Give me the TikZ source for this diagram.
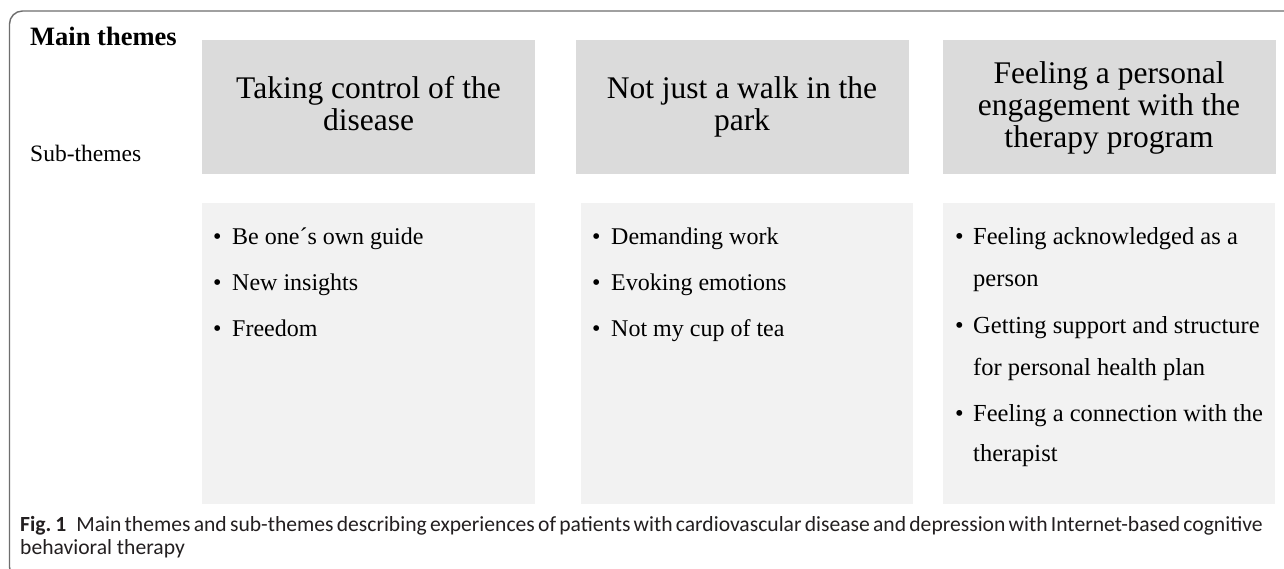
\documentclass[tikz,border=0pt]{standalone}
\usepackage{fontspec}
\setmainfont{Liberation Serif}
\newfontfamily\capfont{Carlito}
\definecolor{topfill}{RGB}{219,219,219}
\definecolor{botfill}{RGB}{242,242,242}
\definecolor{framec}{RGB}{110,110,110}
\definecolor{captxt}{RGB}{35,31,32}
\begin{document}
\begin{tikzpicture}[x=1pt,y=-1pt,
  topbox/.style={fill=topfill, draw=none, inner sep=0pt, minimum width=333pt, minimum height=134pt},
  toptext/.style={inner sep=0pt, align=center, font=\fontsize{31.5}{32}\selectfont},
  botbox/.style={fill=botfill, draw=none, inner sep=0pt, minimum width=333pt, minimum height=301pt, anchor=north west},
  itemA/.style={anchor=base west, inner sep=0pt, font=\fontsize{24}{24}\selectfont},
  itemB/.style={anchor=base west, inner sep=0pt, font=\fontsize{24.5}{24.5}\selectfont},
  labelA/.style={anchor=base west, inner sep=0pt},
  capline/.style={anchor=base west, inner sep=0pt, text=captxt, font=\capfont\fontsize{21.6}{21.6}\selectfont}
]
\useasboundingbox (0,0) rectangle (1284,569);
\clip (0,0) rectangle (1284,569);
\fill[white] (0,0) rectangle (1284,569);
\draw[framec, line width=1.4pt, rounded corners=13pt] (1300,11) -- (9.5,11) -- (9.5,580) -- (40,580);

\node[labelA, font=\bfseries\fontsize{26.5}{26.5}\selectfont] (mt) at (30,46) {Main themes};
\node[labelA, font=\fontsize{23.5}{23.5}\selectfont] (st) at (30,162) {Sub-themes};

\node[topbox] (t1) at (368.5,107) {};
\node[topbox] (t2) at (742,107) {};
\node[topbox] (t3) at (1109,107) {};
\node[toptext] (t1t) at ([yshift=-1.5pt]t1.center) {\strut Taking control of the\\\strut disease};
\node[toptext] (t2t) at ([yshift=-1.5pt]t2.center) {\strut Not just a walk in the\\\strut park};
\node[toptext] (t3t) at ([yshift=-2pt]t3.center) {\strut Feeling a personal\\\strut engagement with the\\\strut therapy program};

\node[botbox] (b1) at (202,203) {};
\node[botbox, minimum width=332pt] (b2) at (581,203) {};
\node[botbox, minimum width=332pt] (b3) at (943,203) {};

\node[itemA] (p11) at (213,245) {\textbullet};
\node[itemA] (i11) at (232,245) {Be one´s own guide};
\node[itemA] (p12) at (213,290.5) {\textbullet};
\node[itemA] (i12) at (232,290.5) {New insights};
\node[itemA] (p13) at (213,336) {\textbullet};
\node[itemA] (i13) at (232,336) {Freedom};

\node[itemA] (p21) at (592,245) {\textbullet};
\node[itemA] (i21) at (611,245) {Demanding work};
\node[itemA] (p22) at (592,290.5) {\textbullet};
\node[itemA] (i22) at (611,290.5) {Evoking emotions};
\node[itemA] (p23) at (592,336) {\textbullet};
\node[itemA] (i23) at (611,336) {Not my cup of tea};

\node[itemB] (p31) at (955,245) {\textbullet};
\node[itemB] (i31) at (973,245) {Feeling acknowledged as a};
\node[itemB] (i31b) at (973,287) {person};
\node[itemB] (p32) at (955,333) {\textbullet};
\node[itemB] (i32) at (973,333) {Getting support and structure};
\node[itemB] (i32b) at (973,375) {for personal health plan};
\node[itemB] (p33) at (955,421) {\textbullet};
\node[itemB] (i33) at (973,421) {Feeling a connection with the};
\node[itemB] (i33b) at (973,461) {therapist};

\node[capline] (c1) at (20,531) {\makebox[1242pt][s]{\textbf{Fig.\hspace{4pt}1}\hspace{10pt}Main themes and sub-themes describing experiences of patients with cardiovascular disease and depression with Internet-based cognitive}};
\node[capline] (c2) at (20,554) {behavioral therapy};
\end{tikzpicture}
\end{document}
